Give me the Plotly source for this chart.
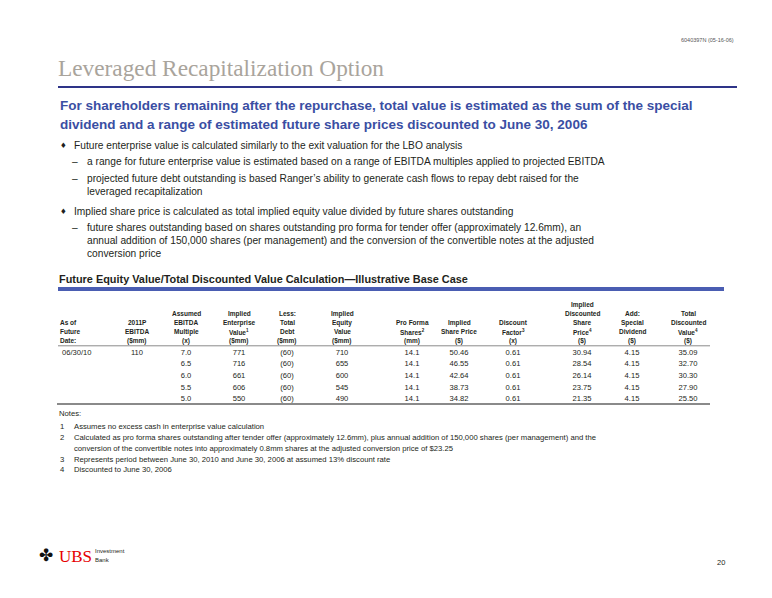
import plotly.graph_objects as go

# ---------------- data ----------------
as_of_dates = ["06/30/10", "", "", "", ""]
ebitda_2011p = [110, None, None, None, None]
ebitda_multiples = [7.0, 6.5, 6.0, 5.5, 5.0]
enterprise_values = [771, 716, 661, 606, 550]
total_debt = [-60, -60, -60, -60, -60]
equity_values = [710, 655, 600, 545, 490]
pro_forma_shares = [14.1, 14.1, 14.1, 14.1, 14.1]
implied_share_prices = [50.46, 46.55, 42.64, 38.73, 34.82]
discount_factors = [0.61, 0.61, 0.61, 0.61, 0.61]
discounted_share_prices = [30.94, 28.54, 26.14, 23.75, 21.35]
special_dividends = [4.15, 4.15, 4.15, 4.15, 4.15]
total_discounted_values = [35.09, 32.70, 30.30, 27.90, 25.50]

column_headers = [
    ["As of", "Future", "Date:"],
    ["2011P", "EBITDA", "($mm)"],
    ["Assumed", "EBITDA", "Multiple", "(x)"],
    ["Implied", "Enterprise", "Value<sup>1</sup>", "($mm)"],
    ["Less:", "Total", "Debt", "($mm)"],
    ["Implied", "Equity", "Value", "($mm)"],
    ["Pro Forma", "Shares<sup>2</sup>", "(mm)"],
    ["Implied", "Share Price", "($)"],
    ["Discount", "Factor<sup>3</sup>", "(x)"],
    ["Implied", "Discounted", "Share", "Price<sup>4</sup>", "($)"],
    ["Add:", "Special", "Dividend", "($)"],
    ["Total", "Discounted", "Value<sup>4</sup>", "($)"],
]

title = "Leveraged Recapitalization Option"
subtitle_lines = [
    "For shareholders remaining after the repurchase, total value is estimated as the sum of the special",
    "dividend and a range of estimated future share prices discounted to June 30, 2006",
]
body_lines = [  # (kind, text)
    ("bullet", "Future enterprise value is calculated similarly to the exit valuation for the LBO analysis"),
    ("dash", "a range for future enterprise value is estimated based on a range of EBITDA multiples applied to projected EBITDA"),
    ("dash", "projected future debt outstanding is based Ranger’s ability to generate cash flows to repay debt raised for the"),
    ("cont", "leveraged recapitalization"),
    ("bullet", "Implied share price is calculated as total implied equity value divided by future shares outstanding"),
    ("dash", "future shares outstanding based on shares outstanding pro forma for tender offer (approximately 12.6mm), an"),
    ("cont", "annual addition of 150,000 shares (per management) and the conversion of the convertible notes at the adjusted"),
    ("cont", "conversion price"),
]
table_title = "Future Equity Value/Total Discounted Value Calculation—Illustrative Base Case"
notes = [
    ("", "Notes:"),
    ("1", "Assumes no excess cash in enterprise value calculation"),
    ("2", "Calculated as pro forma shares outstanding after tender offer (approximately 12.6mm), plus annual addition of 150,000 shares (per management) and the"),
    ("", "conversion of the convertible notes into approximately 0.8mm shares at the adjusted conversion price of $23.25"),
    ("3", "Represents period between June 30, 2010 and June 30, 2006 at assumed 13% discount rate"),
    ("4", "Discounted to June 30, 2006"),
]

# ---------------- layout constants ----------------
W, H = 772, 598
PAGE_MARGIN = 8  # default body margin of the html page
SANS = "Liberation Sans, Arial, sans-serif"
TEXT = "#231f20"
COL_X = [58, 137, 186, 239, 287, 342, 412, 459, 513, 582, 632, 688]
ROW_Y0, ROW_STEP = 353, 11.6
HDR_BOTTOM, HDR_STEP = 340.5, 9.0


def fmt_num(v, d):
    if v is None:
        return ""
    if v < 0:
        return f"({abs(v):.{d}f})"
    return f"{v:.{d}f}"


columns = [
    as_of_dates,
    [fmt_num(v, 0) for v in ebitda_2011p],
    [fmt_num(v, 1) for v in ebitda_multiples],
    [fmt_num(v, 0) for v in enterprise_values],
    [fmt_num(v, 0) for v in total_debt],
    [fmt_num(v, 0) for v in equity_values],
    [fmt_num(v, 1) for v in pro_forma_shares],
    [fmt_num(v, 2) for v in implied_share_prices],
    [fmt_num(v, 2) for v in discount_factors],
    [fmt_num(v, 2) for v in discounted_share_prices],
    [fmt_num(v, 2) for v in special_dividends],
    [fmt_num(v, 2) for v in total_discounted_values],
]

fig = go.Figure()

# table body via text traces on the (pixel-scaled) axes
for ci, col in enumerate(columns):
    pts = [(ROW_Y0 + i * ROW_STEP, t) for i, t in enumerate(col) if t]
    fig.add_trace(go.Scatter(
        x=[COL_X[ci] + (4 if ci == 0 else 0)] * len(pts), y=[p[0] for p in pts],
        text=[p[1] for p in pts], mode="text",
        textposition="middle right" if ci == 0 else "middle center",
        textfont=dict(family=SANS, size=7.6, color=TEXT),
        hoverinfo="skip", showlegend=False,
    ))

ann = []
shapes = []

# document id
ann.append(dict(x=736, y=40, text="6040397N (05-16-06)", xanchor="right", yanchor="middle",
                font=dict(family=SANS, size=5.5, color="#555555")))
# title
ann.append(dict(x=56, y=68, text=title, xanchor="left", yanchor="middle",
                font=dict(family="Liberation Serif, serif", size=23.3, color="#a9a49c")))
shapes.append(dict(type="line", x0=58, x1=737, y0=87, y1=87, line=dict(color="#2e3488", width=2.2)))
# subtitle
for i, t in enumerate(subtitle_lines):
    ann.append(dict(x=58, y=105.5 + i * 18.5, text="<b>" + t + "</b>", xanchor="left", yanchor="middle",
                    font=dict(family=SANS, size=13.5, color="#3a4ea3")))
# body bullets
body_y = [145, 161.5, 178, 191.5, 211, 227.5, 240.5, 253]
BODY_SIZE = 10.2
for (kind, t), y in zip(body_lines, body_y):
    if kind == "bullet":
        ann.append(dict(x=58, y=y, text="♦", xanchor="left", yanchor="middle",
                        font=dict(family="DejaVu Sans", size=7.5, color=TEXT)))
        ann.append(dict(x=72, y=y, text=t, xanchor="left", yanchor="middle",
                        font=dict(family=SANS, size=BODY_SIZE, color=TEXT)))
    elif kind == "dash":
        ann.append(dict(x=70, y=y, text="–", xanchor="left", yanchor="middle",
                        font=dict(family=SANS, size=BODY_SIZE, color=TEXT)))
        ann.append(dict(x=85, y=y, text=t, xanchor="left", yanchor="middle",
                        font=dict(family=SANS, size=BODY_SIZE, color=TEXT)))
    else:
        ann.append(dict(x=85, y=y, text=t, xanchor="left", yanchor="middle",
                        font=dict(family=SANS, size=BODY_SIZE, color=TEXT)))

# table title & bar
ann.append(dict(x=57, y=278.5, text="<b>" + table_title + "</b>", xanchor="left", yanchor="middle",
                font=dict(family=SANS, size=10.9, color=TEXT)))
shapes.append(dict(type="line", x0=58, x1=724, y0=289, y1=289, line=dict(color="#4a5db2", width=4)))

# column headers
for ci, lines in enumerate(column_headers):
    n = len(lines)
    for li, t in enumerate(lines):
        y = HDR_BOTTOM - (n - 1 - li) * HDR_STEP
        ann.append(dict(x=COL_X[ci], y=y, text="<b>" + t + "</b>",
                        xanchor="left" if ci == 0 else "center", yanchor="middle",
                        font=dict(family=SANS, size=6.5, color=TEXT)))
shapes.append(dict(type="line", x0=58, x1=710, y0=345.8, y1=345.8, line=dict(color="#8a8a8a", width=1)))
shapes.append(dict(type="line", x0=57, x1=710, y0=404, y1=404, line=dict(color="#8a8a8a", width=2)))

# notes
notes_y = [413.5, 426, 437.3, 448.3, 459.3, 469.5]
NOTE_SIZE = 7.7
for (num, t), y in zip(notes, notes_y):
    if num == "" and t == "Notes:":
        ann.append(dict(x=57, y=y, text=t, xanchor="left", yanchor="middle",
                        font=dict(family=SANS, size=NOTE_SIZE, color=TEXT)))
        continue
    if num:
        ann.append(dict(x=58, y=y, text=num, xanchor="left", yanchor="middle",
                        font=dict(family=SANS, size=NOTE_SIZE, color=TEXT)))
    ann.append(dict(x=72, y=y, text=t, xanchor="left", yanchor="middle",
                    font=dict(family=SANS, size=NOTE_SIZE, color=TEXT)))

# footer: UBS logo approximation and page number
ann.append(dict(x=37, y=555, text="✤", xanchor="left", yanchor="middle",
                font=dict(family="DejaVu Sans", size=17, color="#111111")))
ann.append(dict(x=57, y=556, text="UBS", xanchor="left", yanchor="middle",
                font=dict(family="Liberation Serif, serif", size=17, color="#e60000")))
ann.append(dict(x=93, y=550.5, text="Investment", xanchor="left", yanchor="middle",
                font=dict(family=SANS, size=6, color=TEXT)))
ann.append(dict(x=93, y=559.5, text="Bank", xanchor="left", yanchor="middle",
                font=dict(family=SANS, size=6, color=TEXT)))
ann.append(dict(x=727, y=562, text="20", xanchor="right", yanchor="middle",
                font=dict(family=SANS, size=7.5, color=TEXT)))

for a in ann:
    a.update(xref="x", yref="y", showarrow=False)
for s in shapes:
    s.update(xref="x", yref="y")

fig.update_layout(
    width=W - PAGE_MARGIN, height=H - PAGE_MARGIN, margin=dict(l=0, r=0, t=0, b=0),
    paper_bgcolor="white", plot_bgcolor="white",
    xaxis=dict(range=[PAGE_MARGIN, W], visible=False, fixedrange=True),
    yaxis=dict(range=[H, PAGE_MARGIN], visible=False, fixedrange=True),
    annotations=ann, shapes=shapes, showlegend=False,
)

fig.write_html("out.html", config={"displayModeBar": False})
